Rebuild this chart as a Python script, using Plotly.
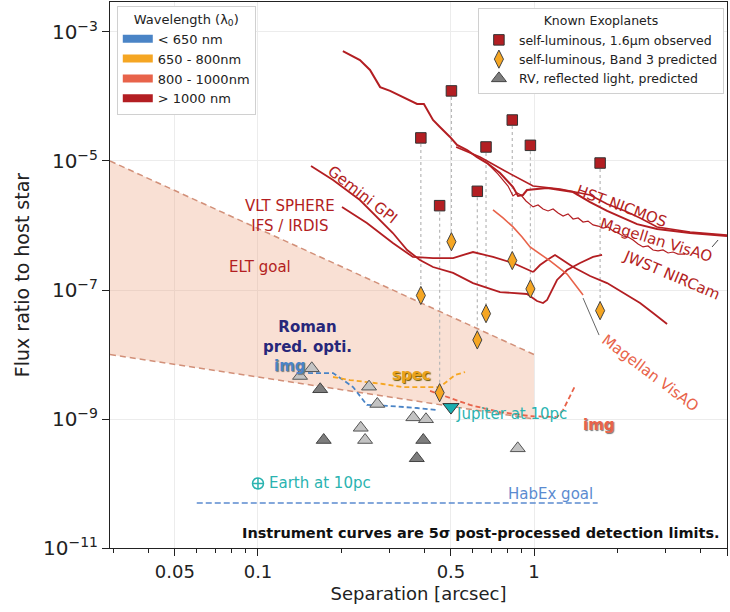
import numpy as np
import plotly.graph_objects as go

# Wavelength colour code
C_BLUE = "#4a84c6"
C_ORANGE = "#f5a623"
C_SALMON = "#e8634a"
C_RED = "#b31e22"
C_TEAL = "#2ab3b0"

band_names = ["< 650 nm", "650 - 800nm", "800 - 1000nm", "> 1000 nm"]
band_colors = [C_BLUE, C_ORANGE, C_SALMON, C_RED]

# ---- Instrument detection limits (separation [arcsec], flux ratio) ----
hst_sep = [0.203, 0.234, 0.2545, 0.277, 0.301, 0.335, 0.377, 0.399, 0.4305, 0.456, 0.496,
           0.526, 0.572, 0.6215, 0.6755, 0.753, 0.839, 0.875, 0.912, 0.943, 1.115, 1.385,
           1.596, 1.839, 2.101, 2.362, 2.791, 3.675, 5.0]
hst_flux = [5.07e-4, 3.68e-4, 2.58e-4, 1.40e-4, 1.22e-4, 9.8e-5, 7.65e-5, 7.65e-5, 4.32e-5,
            3.37e-5, 2.36e-5, 1.77e-5, 1.48e-5, 1.15e-5, 9.3e-6, 6.52e-6, 3.95e-6, 2.87e-6,
            2.97e-6, 3.55e-6, 3.81e-6, 3.3e-6, 2.31e-6, 1.68e-6, 1.31e-6, 1.05e-6, 8.83e-7,
            7.65e-7, 6.88e-7]

hst2_sep = [0.522, 0.637, 0.785, 0.992, 1.242, 1.596, 1.839, 2.136, 2.421, 2.791, 3.675, 5.0]
hst2_flux = [1.65e-5, 1.15e-5, 7.0e-6, 4.09e-6, 3.68e-6, 2.97e-6, 2.15e-6, 1.68e-6, 1.31e-6,
             9.5e-7, 7.93e-7, 7.13e-7]

visao_ir_sep = [0.6755, 0.710, 0.7406, 0.772, 0.805, 0.839, 0.868, 0.897, 0.935, 0.992, 1.034,
                1.078, 1.124, 1.172, 1.222, 1.274, 1.328, 1.385, 1.444, 1.505, 1.569, 1.636,
                1.706, 1.778, 1.854, 1.933, 2.015, 2.101, 2.190, 2.284, 2.381, 2.482, 2.588,
                2.698, 2.813, 2.933, 3.058, 3.188, 3.324, 3.525]
visao_ir_flux = [9.3e-6, 7.52e-6, 6.28e-6, 5.07e-6, 4.09e-6, 2.87e-6, 3.19e-6, 2.97e-6, 2.40e-6,
                 1.94e-6, 2.08e-6, 1.80e-6, 1.68e-6, 1.80e-6, 1.56e-6, 1.40e-6, 1.51e-6, 1.26e-6,
                 1.31e-6, 1.13e-6, 1.17e-6, 1.02e-6, 9.8e-7, 9.14e-7, 9.5e-7, 8.22e-7, 7.65e-7,
                 6.88e-7, 6.64e-7, 5.96e-7, 5.16e-7, 4.65e-7, 4.81e-7, 4.17e-7, 4.03e-7, 4.17e-7,
                 3.75e-7, 3.88e-7, 3.61e-7, 3.61e-7]

gpi_sep = [0.1556, 0.187, 0.234, 0.270, 0.308, 0.347, 0.386, 0.4305, 0.509, 0.601, 0.753,
           0.943, 1.025, 1.078, 1.115, 1.211, 1.317, 1.468, 1.636, 1.764]
gpi_flux = [8.36e-6, 5.07e-6, 2.48e-6, 1.36e-6, 7.65e-7, 4.17e-7, 2.92e-7, 2.27e-7, 1.84e-7,
            1.28e-7, 9.3e-8, 8.67e-8, 6.75e-8, 6.28e-8, 7.0e-8, 1.43e-7, 2.04e-7, 2.62e-7,
            3.25e-7, 3.49e-7]

sphere_sep = [0.2015, 0.248, 0.308, 0.364, 0.4305, 0.509, 0.601, 0.710, 0.839, 0.992]
sphere_flux = [1.94e-6, 1.09e-6, 5.36e-7, 3.25e-7, 3.13e-7, 3.13e-7, 3.88e-7, 3.25e-7,
               2.62e-7, 1.90e-7]

nircam_sep = [0.992, 1.051, 1.115, 1.191, 1.385, 1.596, 1.839, 2.101, 2.421, 2.698, 3.033]
nircam_flux = [1.90e-7, 2.44e-7, 2.92e-7, 3.49e-7, 2.27e-7, 1.65e-7, 1.28e-7, 8.98e-8,
               6.28e-8, 4.4e-8, 2.97e-8]

visao_sep = [0.710, 0.772, 0.839, 0.905, 0.967, 1.051, 1.143, 1.317, 1.432, 1.505]
visao_flux = [1.74e-6, 1.31e-6, 9.5e-7, 6.64e-7, 4.65e-7, 3.61e-7, 2.82e-7, 1.77e-7,
              1.11e-7, 8.36e-8]

# Roman coronagraph predictions
roman_img_sep = [0.142, 0.154, 0.187, 0.221, 0.248, 0.301, 0.377, 0.445]
roman_img_flux = [5.35e-9, 5.16e-9, 5.16e-9, 3.13e-9, 1.65e-9, 1.59e-9, 1.48e-9, 1.38e-9]

roman_spec_sep = [0.187, 0.2154, 0.2837, 0.335, 0.456, 0.484, 0.5174, 0.5623]
roman_spec_flux = [4.48e-9, 4.02e-9, 3.49e-9, 3.13e-9, 3.13e-9, 3.88e-9, 4.81e-9, 5.35e-9]

roman_wide_sep = [0.42, 0.496, 0.586, 0.753, 0.967, 1.211, 1.274, 1.328, 1.408]
roman_wide_flux = [2.72e-9, 2.12e-9, 1.65e-9, 1.28e-9, 1.11e-9, 1.07e-9, 1.38e-9, 1.97e-9, 3.25e-9]

# Goal regions
elt_sep = [0.0291, 1.0]
elt_upper = [1.0e-5, 1.0e-8]
elt_lower = [1.0e-8, 1.0e-9]
habex_sep = [0.06, 1.7]
habex_flux = [5.0e-11, 5.0e-11]

# ---- Known exoplanets ----
planet_sep = [0.389, 0.455, 0.502, 0.623, 0.670, 0.834, 0.970, 1.735]
planet_h_obs = [2.28e-5, 2.03e-6, 1.22e-4, 3.39e-6, 1.65e-5, 4.32e-5, 1.75e-5, 9.3e-6]
planet_band3 = [8.22e-8, 2.56e-9, 5.61e-7, 1.68e-8, 4.3e-8, 2.86e-7, 1.04e-7, 4.78e-8]

rv_light_sep = [0.1566, 0.142, 0.2525, 0.2705, 0.3653, 0.406, 0.2356, 0.2443, 0.873]
rv_light_flux = [6.11e-9, 4.64e-9, 3.17e-9, 1.71e-9, 1.06e-9, 9.9e-10, 7.3e-10, 4.72e-10, 3.51e-10]
rv_dark_sep = [0.168, 0.173, 0.397, 0.376]
rv_dark_flux = [2.89e-9, 4.72e-10, 4.72e-10, 2.46e-10]

earth_sep, earth_flux = 0.1, 1.0e-10
jupiter_sep, jupiter_flux = 0.5, 1.53e-9

# axis ticks
x_ticks = [0.05, 0.1, 0.5, 1, 5]
x_ticktext = ["0.05", "0.1", "0.5", "1", "5"]
y_ticks = [1e-11, 1e-9, 1e-7, 1e-5, 1e-3]
y_ticktext = ["10<sup>\u221211</sup>", "10<sup>\u22129</sup>", "10<sup>\u22127</sup>",
              "10<sup>\u22125</sup>", "10<sup>\u22123</sup>"]

FONT = "DejaVu Sans"
fig = go.Figure()

# ELT goal shaded band
fig.add_trace(go.Scatter(x=elt_sep, y=elt_lower, mode="lines",
                         line=dict(color="#d29079", width=1.5, dash="6px,4px"),
                         showlegend=False, hoverinfo="skip"))
fig.add_trace(go.Scatter(x=elt_sep, y=elt_upper, mode="lines", fill="tonexty",
                         fillcolor="rgba(236,160,125,0.33)",
                         line=dict(color="#d29079", width=1.5, dash="6px,4px"),
                         showlegend=False, hoverinfo="skip"))

# HabEx goal
fig.add_trace(go.Scatter(x=habex_sep, y=habex_flux, mode="lines",
                         line=dict(color="#5b8bd0", width=1.5, dash="6px,3px"),
                         showlegend=False, hoverinfo="skip"))

# dotted connectors: observed -> predicted for each imaged planet
cx, cy = [], []
for s, a, b in zip(planet_sep, planet_h_obs, planet_band3):
    cx += [s, s, None]
    cy += [a, b, None]
fig.add_trace(go.Scatter(x=cx, y=cy, mode="lines",
                         line=dict(color="#b8b8b8", width=1.2, dash="dot"),
                         showlegend=False, hoverinfo="skip"))

def curve(sep, flux, color, width=1.8, dash=None):
    fig.add_trace(go.Scatter(x=sep, y=flux, mode="lines",
                             line=dict(color=color, width=width, dash=dash),
                             showlegend=False, hoverinfo="skip"))

curve(hst_sep, hst_flux, C_RED, 2.0)
curve(hst2_sep, hst2_flux, C_RED, 1.6)
curve(visao_ir_sep, visao_ir_flux, C_RED, 1.2)
curve(gpi_sep, gpi_flux, C_RED, 1.8)
curve(sphere_sep, sphere_flux, C_RED, 1.8)
curve(nircam_sep, nircam_flux, C_RED, 1.8)
curve(visao_sep, visao_flux, C_SALMON, 1.6)
curve(roman_img_sep, roman_img_flux, C_BLUE, 1.8, "5px,3px")
curve(roman_spec_sep, roman_spec_flux, C_ORANGE, 1.8, "5px,3px")
curve(roman_wide_sep, roman_wide_flux, C_SALMON, 1.8, "5px,3px")

# label leader lines
fig.add_trace(go.Scatter(x=[1.505, 1.72], y=[7.5e-8, 2.0e-8], mode="lines",
                         line=dict(color="#666666", width=1), showlegend=False, hoverinfo="skip"))
fig.add_trace(go.Scatter(x=[4.415, 4.642], y=[4.65e-7, 5.96e-7], mode="lines",
                         line=dict(color="#444444", width=1), showlegend=False, hoverinfo="skip"))

# wavelength legend entries
for name, col in zip(band_names, band_colors):
    fig.add_trace(go.Scatter(x=[None], y=[None], mode="lines", name=name,
                             line=dict(color=col, width=8), legend="legend"))

# planets
fig.add_trace(go.Scatter(x=rv_light_sep, y=rv_light_flux, mode="markers",
                         marker=dict(symbol="triangle-up", size=13, color="#c3c3c3",
                                     line=dict(color="#555555", width=1)),
                         showlegend=False, hoverinfo="skip"))
fig.add_trace(go.Scatter(x=rv_dark_sep, y=rv_dark_flux, mode="markers",
                         name="RV, reflected light, predicted", legend="legend2",
                         marker=dict(symbol="triangle-up", size=13, color="#7d7d7d",
                                     line=dict(color="#444444", width=1))))
fig.add_trace(go.Scatter(x=planet_sep, y=planet_band3, mode="markers",
                         name="self-luminous, Band 3 predicted", legend="legend2",
                         marker=dict(symbol="diamond-tall", size=13, color=C_ORANGE,
                                     line=dict(color="#444444", width=1))))
fig.add_trace(go.Scatter(x=planet_sep, y=planet_h_obs, mode="markers",
                         name="self-luminous, 1.6\u03bcm observed", legend="legend2",
                         marker=dict(symbol="square", size=10.5, color=C_RED,
                                     line=dict(color="#333333", width=1))))
fig.add_trace(go.Scatter(x=[jupiter_sep], y=[jupiter_flux], mode="markers",
                         marker=dict(symbol="triangle-down", size=14, color="#1aaeb0",
                                     line=dict(color="#333333", width=1)),
                         showlegend=False, hoverinfo="skip"))
fig.add_trace(go.Scatter(x=[earth_sep], y=[earth_flux], mode="markers",
                         marker=dict(symbol="circle-cross-open", size=11, color=C_TEAL,
                                     line=dict(color=C_TEAL, width=1.5)),
                         showlegend=False, hoverinfo="skip"))

# text labels
def label(text, x, y, color, size=15, angle=0, bold=False, xanchor="center", shadow=None):
    font = dict(family=FONT, size=size, color=color, weight="bold" if bold else "normal")
    if shadow:
        font["shadow"] = shadow
    fig.add_annotation(x=np.log10(x), y=np.log10(y), text=text, showarrow=False,
                       textangle=angle, xanchor=xanchor, yanchor="middle", font=font)

label("VLT SPHERE<br>IFS / IRDIS", 0.1306, 10 ** -5.853, C_RED)
label("Gemini GPI", 0.240, 10 ** -5.527, C_RED, angle=38)
label("HST NICMOS", 2.066, 10 ** -5.698, C_RED, angle=20)
label("Magellan VisAO", 2.767, 10 ** -6.225, C_RED, angle=17)
label("JWST NIRCam", 3.136, 10 ** -6.767, C_RED, angle=23)
label("Magellan VisAO", 2.633, 10 ** -8.287, C_SALMON, angle=37)
label("ELT goal", 0.1017, 10 ** -6.643, C_RED)
label("Roman<br>pred. opti.", 0.1505, 10 ** -7.729, "#27277a", bold=True)
label("img", 0.1306, 10 ** -8.178, C_BLUE, bold=True, shadow="1px 1px 1px #777")
label("spec", 0.3583, 10 ** -8.318, "#eaa21c", bold=True, shadow="1px 1px 1px #6b5a00")
label("img", 1.72, 10 ** -9.093, C_SALMON, bold=True, shadow="1px 1px 1px #777")
label("Jupiter at 10pc", 0.515, 10 ** -8.922, C_TEAL, xanchor="left")
label("Earth at 10pc", 0.1078, 10 ** -9.99, C_TEAL, xanchor="left")
label("HabEx goal", 1.143, 10 ** -10.155, "#5b8bd0")

fig.add_annotation(xref="paper", yref="paper", x=0.992, y=0.028, xanchor="right",
                   yanchor="middle", showarrow=False,
                   text="Instrument curves are 5\u03c3 post-processed detection limits.",
                   font=dict(family=FONT, size=14.5, color="#111111", weight="bold"))

fig.update_layout(
    width=730, height=612,
    margin=dict(l=110, r=3, t=2, b=64),
    paper_bgcolor="white", plot_bgcolor="white",
    font=dict(family=FONT, color="#222222"),
    xaxis=dict(type="log", range=[np.log10(0.0291), np.log10(5)],
               tickvals=x_ticks, ticktext=x_ticktext, tickfont=dict(size=18),
               ticks="outside", ticklen=7, tickcolor="#222", showline=True,
               linecolor="#222", linewidth=1, mirror=True, showgrid=True,
               gridcolor="#ececec", zeroline=False,
               minor=dict(tickvals=[0.03, 0.04, 0.06, 0.07, 0.08, 0.09, 0.2, 0.3, 0.4,
                                    0.6, 0.7, 0.8, 0.9, 2, 3, 4],
                          ticks="outside", ticklen=4, tickcolor="#222", showgrid=False),
               title=dict(text="Separation [arcsec]", font=dict(size=18), standoff=6)),
    yaxis=dict(type="log", range=[-11, -2.535], tickvals=y_ticks, ticktext=y_ticktext,
               tickfont=dict(size=20), ticks="outside", ticklen=7, tickcolor="#222",
               showline=True, linecolor="#222", linewidth=1, mirror=True, showgrid=True,
               gridcolor="#ececec", zeroline=False,
               title=dict(text="Flux ratio to host star", font=dict(size=19), standoff=8)),
    legend=dict(x=0.011, y=0.993, xanchor="left", yanchor="top",
                bgcolor="white", bordercolor="#d0d0d0", borderwidth=1,
                font=dict(family=FONT, size=13, color="#222"),
                title=dict(text="Wavelength (\u03bb<sub>0</sub>)", side="top center",
                           font=dict(family=FONT, size=13)),
                traceorder="normal", itemwidth=30, tracegroupgap=0),
    legend2=dict(x=0.995, y=0.989, xanchor="right", yanchor="top",
                 bgcolor="white", bordercolor="#d0d0d0", borderwidth=1,
                 font=dict(family=FONT, size=12.5, color="#222"),
                 title=dict(text="Known Exoplanets", side="top center",
                            font=dict(family=FONT, size=12.5)),
                 traceorder="reversed", itemwidth=30),
    showlegend=True,
)

fig.write_html("out.html")
